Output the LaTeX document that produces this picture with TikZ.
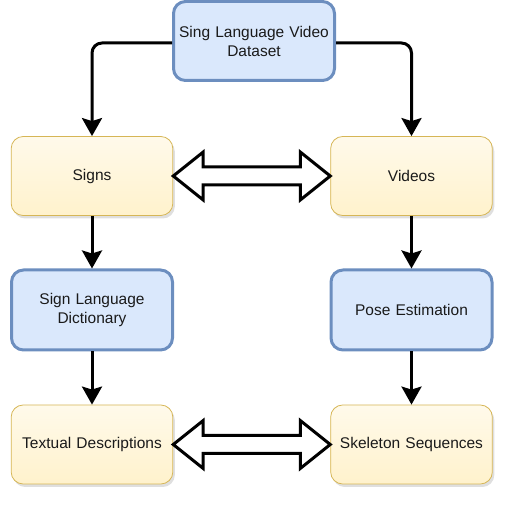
\documentclass[tikz,border=0pt]{standalone}
\usepackage{fontspec}
\setmainfont{Liberation Sans}
\usetikzlibrary{arrows.meta,calc,shadows}

\definecolor{bluefill}{HTML}{DAE8FC}
\definecolor{blueline}{HTML}{6C8EBF}
\definecolor{yellowfill}{HTML}{FFF2CC}
\definecolor{yellowline}{HTML}{D6B656}
\definecolor{inktext}{HTML}{1A1A1A}

\tikzset{
    bluebox/.style={draw=blueline, fill=bluefill, line width=3pt, rounded corners=12pt,
        minimum width=161pt, minimum height=79pt, align=center, text width=150pt,
        text=inktext, font=\fontsize{15.5}{19}\selectfont},
    yellowbox/.style={draw=yellowline, line width=0.8pt, rounded corners=12pt,
        top color=yellowfill!40!white, bottom color=yellowfill,
        drop shadow={shadow xshift=2pt, shadow yshift=-3pt, opacity=0.25},
        minimum width=160pt, minimum height=79pt, align=center, text width=155pt,
        text=inktext, font=\fontsize{15.5}{19}\selectfont},
    flow/.style={line width=3pt, rounded corners=10pt,
        -{Stealth[width=20pt, length=18pt, inset=3pt]}},
    hollow/.style={draw, fill=white, line width=3pt, line join=miter}
}

\begin{document}
\begin{tikzpicture}[x=1pt, y=1pt]
    % Page frame
    \useasboundingbox (0, 0) rectangle (528, 522);

    % Nodes
    \node[bluebox] (dataset) at (254, 481) {Sing Language Video\\Dataset};
    \node[yellowbox] (signs) at (92, 346) {Signs};
    \node[yellowbox] (videos) at (411.5, 346) {Videos};
    \node[bluebox, minimum height=80pt] (dict) at (92, 212) {Sign Language\\Dictionary};
    \node[bluebox, minimum height=80pt] (pose) at (411.5, 212) {Pose Estimation};
    \node[yellowbox] (text) at (92, 77.5) {Textual Descriptions};
    \node[yellowbox] (skel) at (411.5, 77.5) {Skeleton Sequences};

    % Connectors
    \draw[flow] ($(dataset.west)+(0,-2)$) -| (signs.north);
    \draw[flow] ($(dataset.east)+(0,-2)$) -| (videos.north);
    \draw[flow] (signs) -- (dict);
    \draw[flow] (videos) -- (pose);
    \draw[flow] (dict) -- (text);
    \draw[flow] (pose) -- (skel);

    % Hollow double arrows
    \foreach \a/\b in {signs/videos, text/skel} {
        \draw[hollow] (\a.east)
            -- ($(\a.east)+(30, 24)$) -- ($(\a.east)+(30, 9)$)
            -- ($(\b.west)+(-30, 9)$) -- ($(\b.west)+(-30, 24)$)
            -- (\b.west)
            -- ($(\b.west)+(-30, -24)$) -- ($(\b.west)+(-30, -9)$)
            -- ($(\a.east)+(30, -9)$) -- ($(\a.east)+(30, -24)$)
            -- cycle;
    }
\end{tikzpicture}
\end{document}
